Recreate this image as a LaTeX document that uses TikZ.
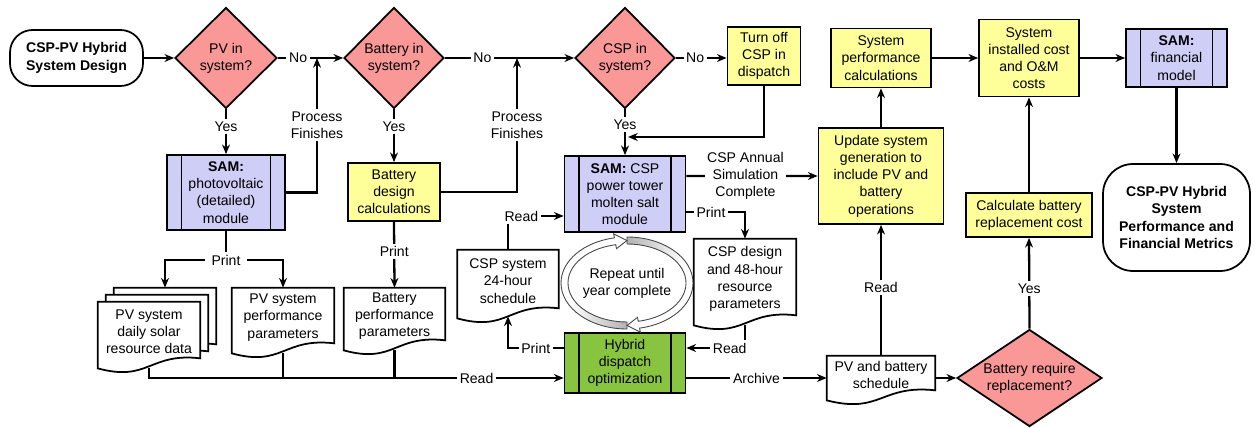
\documentclass[tikz,border=0pt]{standalone}
\usepackage{fontspec}
\setmainfont{Liberation Sans}
\usetikzlibrary{arrows.meta}
\usetikzlibrary{calc}
\usetikzlibrary{shapes.geometric}
\usetikzlibrary{backgrounds}

\definecolor{decpink}{RGB}{250,152,152}
\definecolor{procyellow}{RGB}{255,255,153}
\definecolor{samblue}{RGB}{206,206,246}
\definecolor{optgreen}{RGB}{137,196,64}

% page with a wavy lower edge round a node (the page reaches 0.12cm below the node)
\newcommand{\docpage}[2][0,0]{%
  \path[docframe] ([shift={(#1)},yshift=-0.12cm]#2.south west) -- ([shift={(#1)}]#2.north west)
    -- ([shift={(#1)}]#2.north east) -- ([shift={(#1)},yshift=0.08cm]#2.south east)
    .. controls ([shift={(#1)},yshift=0.2cm]#2.south) and ([shift={(#1)},yshift=-0.4cm]#2.south)
    .. ([shift={(#1)},yshift=-0.12cm]#2.south west) -- cycle;}

% half of the repeat loop: start angle, head base angle, tip angle
\newcommand{\looparrow}[4]{%
  \path[#1] ($(cyc)+(#2:66 and 46)$) arc[start angle=#2, end angle=#3, x radius=66, y radius=46]
    -- ($(cyc)+(#3:70 and 50)$) -- ($(cyc)+(#4:62.5 and 42.5)$) -- ($(cyc)+(#3:55 and 35)$)
    -- ($(cyc)+(#3:59 and 39)$) arc[start angle=#3, end angle=#2, x radius=59, y radius=39] -- cycle;}
\newcommand{\loopband}[3]{%
  \path[#1] ($(cyc)+(#2:66 and 46)$) arc[start angle=#2, end angle=#3, x radius=66, y radius=46]
    -- ($(cyc)+(#3:59 and 39)$) arc[start angle=#3, end angle=#2, x radius=59, y radius=39] -- cycle;}

\begin{document}
\begin{tikzpicture}
	[
	x=0.02cm, y=-0.02cm,
	> = {Stealth[length=5.5pt,width=4.5pt]},
	font=\fontsize{8}{9.8}\selectfont,
	box/.style = {draw, line width=1pt, align=center, inner sep=1pt},
	proc/.style = {box, fill=procyellow},
	sam/.style = {box, fill=samblue, path picture={
		\draw[line width=1pt] ([xshift=0.29cm]path picture bounding box.north west) -- ([xshift=0.29cm]path picture bounding box.south west);
		\draw[line width=1pt] ([xshift=-0.29cm]path picture bounding box.north east) -- ([xshift=-0.29cm]path picture bounding box.south east);}},
	decision/.style = {diamond, draw, line width=1pt, fill=decpink, align=center, inner sep=0pt},
	terminal/.style = {box, font=\fontsize{8}{9.8}\selectfont\bfseries},
	doc/.style = {align=center, inner sep=0pt},
	docframe/.style = {draw, fill=white, line width=1pt},
	lbl/.style = {fill=white, inner sep=1.5pt, align=center},
	conn/.style = {line width=1.3pt, ->},
	wire/.style = {line width=1.3pt}
	]

	\useasboundingbox (0,0) rectangle (1254,428);

	% top row
	\node[terminal, rounded corners=0.45cm, minimum width=2.66cm, minimum height=1.12cm] (start) at (76.5,58) {CSP-PV Hybrid\\System Design};
	\node[decision, minimum width=2.04cm, minimum height=2.02cm] (dpv) at (226,58) {PV in\\system?};
	\node[decision, minimum width=2cm, minimum height=2.02cm] (dbat) at (394,58) {Battery in\\system?};
	\node[decision, minimum width=2cm, minimum height=2.02cm] (dcsp) at (625,58) {CSP in\\system?};
	\node[proc, minimum width=1.46cm, minimum height=1.16cm] (turnoff) at (764,56) {Turn off\\CSP in\\dispatch};
	\node[proc, minimum width=2cm, minimum height=1.18cm] (sysperf) at (881,58) {System\\performance\\calculations};
	\node[proc, minimum width=2cm, minimum height=1.54cm] (syscost) at (1029,58) {System\\installed cost\\and O\&M\\costs};
	\node[sam, minimum width=2.02cm, minimum height=1.16cm] (samfin) at (1176.5,58) {\textbf{SAM:}\\financial\\model};

	% modules
	\node[sam, minimum width=2.36cm, minimum height=1.5cm] (sampv) at (226,192.5) {\textbf{SAM:}\\photovoltaic\\(detailed)\\module};
	\node[proc, minimum width=1.84cm, minimum height=1.16cm] (batdes) at (394,192) {Battery\\design\\calculations};
	\node[sam, minimum width=2.42cm, minimum height=1.52cm] (samcsp) at (625,194) {\textbf{SAM:} CSP\\power tower\\molten salt\\module};
	\node[sam, fill=optgreen, minimum width=2.42cm, minimum height=1.2cm] (hybrid) at (625,363) {Hybrid\\dispatch\\optimization};
	\node[proc, minimum width=2.5cm, minimum height=1.92cm] (update) at (881,176) {Update system\\generation to\\include PV and\\battery\\operations};
	\node[proc, minimum width=2.52cm, minimum height=0.88cm] (calc) at (1029,215) {Calculate battery\\replacement cost};
	\node[terminal, rounded corners=0.6cm, minimum width=2.94cm, minimum height=2.14cm] (endt) at (1176.5,217.5) {CSP-PV Hybrid\\System\\Performance and\\Financial Metrics};
	\node[decision, aspect=1.5, minimum width=2.9cm, minimum height=1.94cm] (dbr) at (1029.5,378) {Battery require\\replacement?};

	% documents
	\node[doc, minimum width=2.04cm, minimum height=1.2cm] (pvdata) at (149,332) {PV system\\daily solar\\resource data};
	\node[doc, minimum width=2.04cm, minimum height=1.18cm] (pvperf) at (283,317.5) {PV system\\performance\\parameters};
	\node[doc, minimum width=2.02cm, minimum height=1.12cm] (batperf) at (394.5,316) {Battery\\performance\\parameters};
	\node[doc, minimum width=2.02cm, minimum height=1.24cm] (cspsched) at (508,281) {CSP system\\24-hour\\schedule};
	\node[doc, minimum width=2.04cm, minimum height=1.6cm] (cspdes) at (745,279) {CSP design\\and 48-hour\\resource\\parameters};
	\node[doc, minimum width=2.16cm, minimum height=0.76cm] (pvbsched) at (881,375) {PV and battery\\schedule};

	\begin{pgfonlayer}{background}
		\docpage[16,-14]{pvdata}
		\docpage[8,-7]{pvdata}
		\docpage{pvdata}
		\docpage{pvperf}
		\docpage{batperf}
		\docpage{cspsched}
		\docpage{cspdes}
		\docpage{pvbsched}
	\end{pgfonlayer}

	% repeat loop
	\coordinate (cyc) at (627,283);
	\looparrow{fill=white}{-90}{79}{90}
	\looparrow{fill=white}{90}{259}{270}
	\loopband{left color=gray!60, right color=white}{-90}{-30}
	\loopband{left color=white, right color=gray!60}{90}{150}
	\looparrow{draw=gray!55!black, line width=0.5pt}{-90}{79}{90}
	\looparrow{draw=gray!55!black, line width=0.5pt}{90}{259}{270}
	\node[align=center] (repeat) at (cyc) {Repeat until\\year complete};

	\coordinate (pvdone) at (317,58);
	\coordinate (batdone) at (517,58);
	\coordinate (cspyes) at (628,137);
	\coordinate (pvprint) at (226,260);
	\coordinate (bus) at ([yshift=-0.3cm]hybrid.west);

	\draw[conn] (start) -- (dpv);
	\draw[conn] (dpv) -- node[lbl, pos=0.31] {No} (dbat);
	\draw[conn] (dbat) -- node[lbl, pos=0.29] {No} (dcsp);
	\draw[conn] (dcsp) -- node[lbl, pos=0.38] {No} (dcsp.east -| turnoff.west);
	\draw[conn] (turnoff.south) |- (cspyes);
	\draw[conn] (dpv.south) -- node[lbl, pos=0.38] {Yes} (sampv.north);
	\draw[conn] (dbat.south) -- node[lbl, pos=0.33] {Yes} (batdes.north);
	\draw[conn] (dcsp.south) -- node[lbl, pos=0.33] {Yes} (samcsp.north);
	\draw[conn] (sampv.east) -| node[lbl, pos=0.75] {Process\\Finishes} (pvdone);
	\draw[conn] (batdes.east) -| node[lbl, pos=0.75] {Process\\Finishes} (batdone);

	\draw[wire] (sampv.south) -- (pvprint);
	\draw[conn] (pvprint) -| ([shift={(16,-14)}]pvdata.north);
	\draw[conn] (pvprint) -| (pvperf.north);
	\node[lbl, inner xsep=4pt] at (pvprint) {Print};
	\draw[conn] (batdes.south) -- node[lbl, pos=0.45] {Print} (batperf.north);

	\draw[conn] ([yshift=-0.12cm]pvdata.south) |- node[lbl, pos=0.895] {Read} (bus);
	\draw[wire] ([yshift=-0.12cm]pvperf.south) -- (pvperf.south |- bus);
	\draw[wire] ([yshift=-0.12cm]batperf.south) -- (batperf.south |- bus);

	\draw[conn] ([yshift=0.36cm]samcsp.east) -- node[lbl, pos=0.45] {CSP Annual\\Simulation\\Complete} (update.west);
	\draw[conn] ([yshift=-0.36cm]samcsp.east) -| node[lbl, pos=0.21] {Print} (cspdes.north);
	\draw[conn] ([yshift=-0.12cm]cspdes.south) |- node[lbl, pos=0.63] {Read} ([yshift=0.3cm]hybrid.east);
	\draw[conn] ([yshift=0.3cm]hybrid.west) -| node[lbl, pos=0.25] {Print} ([yshift=-0.08cm]cspsched.south);
	\draw[conn] (cspsched.north) |- node[lbl, pos=0.62] {Read} ([yshift=-0.44cm]samcsp.west);

	\draw[conn] ([yshift=-0.3cm]hybrid.east) -- node[lbl, pos=0.5] {Archive} ([yshift=-0.3cm]hybrid.east -| pvbsched.west);
	\draw[conn] (pvbsched.north) -- node[lbl, pos=0.52] {Read} (update.south);
	\draw[conn] (pvbsched.east |- dbr) -- (dbr);
	\draw[conn] (dbr.north) -- node[lbl, pos=0.44] {Yes} (calc.south);
	\draw[conn] (calc.north) -- (syscost.south);
	\draw[conn] (update.north) -- (sysperf.south);
	\draw[conn] (sysperf) -- (syscost);
	\draw[conn] (syscost) -- (samfin);
	\draw[conn] (samfin) -- (endt);

\end{tikzpicture}
\end{document}
